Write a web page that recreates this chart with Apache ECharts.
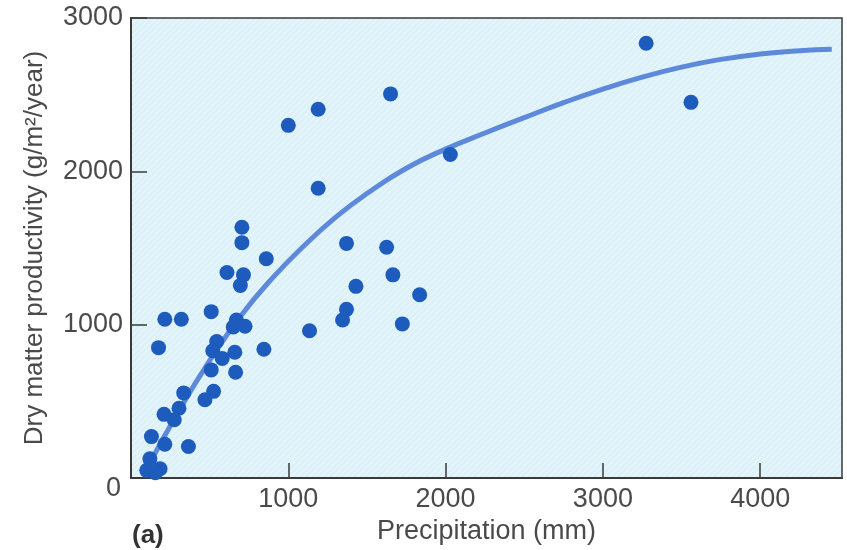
<!DOCTYPE html>
<html>
<head>
<meta charset="utf-8">
<script src="https://cdn.jsdelivr.net/npm/echarts@6/dist/echarts.min.js"></script>
<style>
html,body{margin:0;padding:0;background:#fff;}
#chart{width:847px;height:550px;}
</style>
</head>
<body>
<div id="chart"></div>
<script>
// Observed data points: [precipitation (mm), dry matter productivity (g/m2/year)]
const precipitation = [1000,1190,1650,1190,2030,3275,3560,1625,1665,1835,1725,1370,1430,1370,1345,1135,
  705,705,860,610,715,695,510,215,320,670,650,725,175,545,520,580,660,845,510,665,525,470,335,305,210,275,
  130,215,365,120,100,185,155];
const productivity = [2300,2405,2505,1890,2110,2835,2450,1505,1325,1195,1005,1530,1250,1100,1030,960,
  1635,1535,1430,1340,1325,1255,1085,1035,1035,1030,985,990,850,890,830,780,820,840,705,690,565,510,555,455,415,380,
  270,220,205,125,50,60,35];
// Fitted curve
const curveX = [100,300,500,700,900,1100,1300,1500,1750,2000,2250,2500,2750,3000,3250,3500,3750,4000,4250,4455];
const curveY = [60,430,765,1060,1305,1515,1700,1855,2020,2145,2250,2350,2448,2536,2614,2680,2730,2765,2787,2797];
const yTicks = [0,1000,2000,3000];
const xTicks = [1000,2000,3000,4000];

const chart = echarts.init(document.getElementById('chart'));

// hatched light cyan background pattern
const pc = document.createElement('canvas');
pc.width = 6; pc.height = 6;
const ctx = pc.getContext('2d');
ctx.fillStyle = '#dcf2f8';
ctx.fillRect(0,0,6,6);
ctx.strokeStyle = 'rgba(255,255,255,0.55)';
ctx.lineWidth = 1;
ctx.beginPath();
ctx.moveTo(-1,7); ctx.lineTo(7,-1);
ctx.moveTo(-4,4); ctx.lineTo(4,-4);
ctx.moveTo(2,10); ctx.lineTo(10,2);
ctx.stroke();

const font = "'Liberation Sans', Arial, Helvetica, sans-serif";
const scatterData = precipitation.map((x,i)=>[x, productivity[i]]);
const curveData = curveX.map((x,i)=>[x, curveY[i]]);

chart.setOption({
  animation: false,
  backgroundColor: '#ffffff',
  title: {
    text: '(a)', left: 127, top: 518,
    textStyle: {fontFamily: font, fontWeight: 'bold', fontSize: 26, color: '#333'}
  },
  grid: {
    left: 131, right: 5, top: 18, bottom: 70,
    show: true,
    backgroundColor: {image: pc, repeat: 'repeat'},
    borderColor: '#3a3a3a', borderWidth: 1.5
  },
  xAxis: {
    type: 'value', min: 0, max: 4520, interval: 1000,
    name: 'Precipitation (mm)', nameLocation: 'middle', nameGap: 40,
    nameTextStyle: {fontFamily: font, fontSize: 27, color: '#4a4a4a'},
    axisLine: {show: true, lineStyle: {color: '#3a3a3a', width: 2}},
    axisTick: {show: true, inside: true, length: 15, lineStyle: {color: '#3a3a3a', width: 1.5}},
    splitLine: {show: false},
    axisLabel: {
      margin: 8, fontFamily: font, fontSize: 27, color: '#4a4a4a',
      showMaxLabel: false,
      formatter: v => xTicks.indexOf(v) >= 0 ? String(v) : ''
    }
  },
  yAxis: {
    type: 'value', min: 0, max: 3000, interval: 1000,
    name: 'Dry matter productivity (g/m\u00B2/year)', nameLocation: 'middle', nameGap: 83,
    nameTextStyle: {fontFamily: font, fontSize: 26, color: '#4a4a4a'},
    axisLine: {show: true, lineStyle: {color: '#3a3a3a', width: 2}},
    axisTick: {show: true, inside: true, length: 16, lineStyle: {color: '#3a3a3a', width: 1.5}},
    splitLine: {show: false},
    axisLabel: {
      margin: 8, fontFamily: font, fontSize: 27, color: '#4a4a4a',
      formatter: v => yTicks.indexOf(v) < 0 ? '' : (v === 0 ? '{z|0}' : String(v)),
      rich: {z: {fontFamily: font, fontSize: 27, color: '#4a4a4a', padding: [22, 2, 0, 0]}}
    }
  },
  series: [
    {
      type: 'line', data: curveData, smooth: 0.5, showSymbol: false, symbol: 'none',
      lineStyle: {color: 'rgba(80,125,215,0.9)', width: 5},
      z: 2
    },
    {
      type: 'scatter', data: scatterData, symbolSize: 15,
      itemStyle: {color: '#1d5bbd', opacity: 1},
      z: 3
    }
  ]
});
</script>
</body>
</html>
